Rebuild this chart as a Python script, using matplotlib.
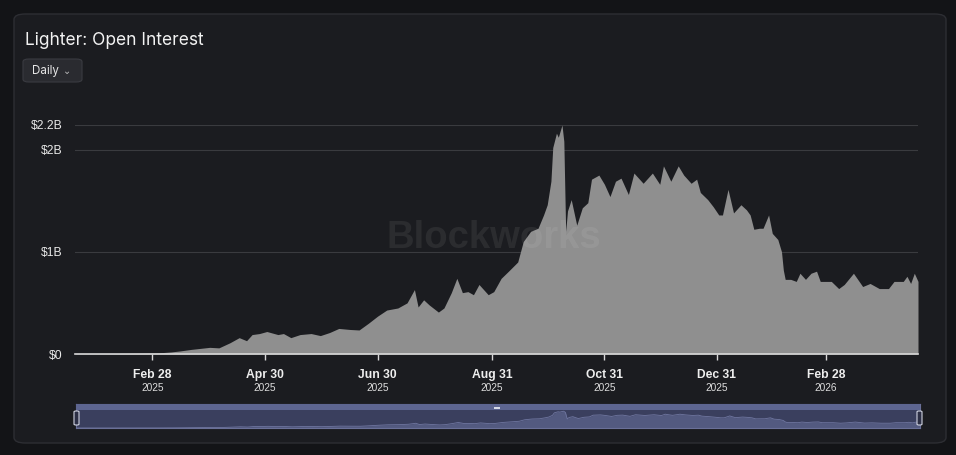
import matplotlib
matplotlib.use("Agg")
import matplotlib.pyplot as plt
import matplotlib.dates as mdates
from matplotlib.patches import FancyBboxPatch, Rectangle
import pandas as pd

# ---- data (open interest, billions USD) ----
dates = ["2025-01-17", "2025-01-31", "2025-02-16", "2025-02-28", "2025-03-04", "2025-03-10",
         "2025-03-15", "2025-03-21", "2025-03-26", "2025-03-31", "2025-04-05", "2025-04-11",
         "2025-04-16", "2025-04-20", "2025-04-23", "2025-04-27", "2025-05-01", "2025-05-07",
         "2025-05-10", "2025-05-14", "2025-05-19", "2025-05-25", "2025-05-30", "2025-06-04",
         "2025-06-09", "2025-06-15", "2025-06-20", "2025-06-25", "2025-06-30", "2025-07-05",
         "2025-07-11", "2025-07-16", "2025-07-20", "2025-07-22", "2025-07-25", "2025-07-28",
         "2025-08-02", "2025-08-05", "2025-08-09", "2025-08-12", "2025-08-15", "2025-08-18",
         "2025-08-21", "2025-08-24", "2025-08-29", "2025-09-01", "2025-09-05", "2025-09-09",
         "2025-09-14", "2025-09-17", "2025-09-21", "2025-09-25", "2025-09-28", "2025-09-30",
         "2025-10-02", "2025-10-03", "2025-10-05", "2025-10-06", "2025-10-08", "2025-10-09",
         "2025-10-10", "2025-10-11", "2025-10-13", "2025-10-16", "2025-10-19", "2025-10-22",
         "2025-10-24", "2025-10-28", "2025-10-31", "2025-11-03", "2025-11-06", "2025-11-09",
         "2025-11-13", "2025-11-16", "2025-11-21", "2025-11-26", "2025-11-30", "2025-12-02",
         "2025-12-06", "2025-12-10", "2025-12-13", "2025-12-17", "2025-12-20", "2025-12-22",
         "2025-12-26", "2025-12-29", "2026-01-01", "2026-01-03", "2026-01-06", "2026-01-09",
         "2026-01-13", "2026-01-16", "2026-01-18", "2026-01-20", "2026-01-23", "2026-01-25",
         "2026-01-28", "2026-01-30", "2026-02-02", "2026-02-04", "2026-02-05", "2026-02-06",
         "2026-02-09", "2026-02-12", "2026-02-14", "2026-02-17", "2026-02-20", "2026-02-23",
         "2026-02-25", "2026-03-03", "2026-03-07", "2026-03-10", "2026-03-15", "2026-03-20",
         "2026-03-24", "2026-03-29", "2026-04-03", "2026-04-06", "2026-04-11", "2026-04-13",
         "2026-04-15", "2026-04-17", "2026-04-19"]
open_interest_b = [0.002, 0.003, 0.006, 0.010, 0.012, 0.020,
                   0.030, 0.045, 0.055, 0.065, 0.060, 0.110,
                   0.160, 0.130, 0.190, 0.200, 0.220, 0.190,
                   0.200, 0.160, 0.190, 0.200, 0.180, 0.210,
                   0.250, 0.240, 0.235, 0.300, 0.370, 0.430,
                   0.450, 0.500, 0.630, 0.460, 0.530, 0.480,
                   0.410, 0.450, 0.600, 0.740, 0.600, 0.610,
                   0.580, 0.680, 0.580, 0.610, 0.740, 0.810,
                   0.900, 1.100, 1.200, 1.230, 1.360, 1.460,
                   1.690, 2.020, 2.160, 2.120, 2.240, 2.080,
                   1.200, 1.400, 1.510, 1.260, 1.430, 1.480,
                   1.710, 1.750, 1.660, 1.540, 1.690, 1.720,
                   1.560, 1.770, 1.670, 1.770, 1.660, 1.840,
                   1.690, 1.840, 1.750, 1.670, 1.710, 1.580,
                   1.510, 1.440, 1.360, 1.360, 1.610, 1.380,
                   1.460, 1.410, 1.360, 1.220, 1.230, 1.230,
                   1.360, 1.180, 1.120, 1.000, 0.820, 0.730,
                   0.730, 0.710, 0.790, 0.730, 0.790, 0.810,
                   0.710, 0.710, 0.640, 0.680, 0.790, 0.660,
                   0.690, 0.640, 0.640, 0.710, 0.710, 0.760,
                   0.690, 0.790, 0.710]
ytick_values_b = [0, 1, 2, 2.24]
ytick_labels = ["$0", "$1B", "$2B", "$2.2B"]
xtick_dates = ["2025-02-28", "2025-04-30", "2025-06-30", "2025-08-31",
               "2025-10-31", "2025-12-31", "2026-02-28"]
xtick_day = ["Feb 28", "Apr 30", "Jun 30", "Aug 31", "Oct 31", "Dec 31", "Feb 28"]
xtick_year = ["2025", "2025", "2025", "2025", "2025", "2025", "2026"]

x = mdates.date2num(pd.to_datetime(dates))
y = [v * 1e9 for v in open_interest_b]

W, H = 956, 455
fig = plt.figure(figsize=(W / 100, H / 100), dpi=100)
fig.patch.set_facecolor("#131417")

def fx(px):
    return px / W

def fy(py):
    return 1 - py / H

# card
card = FancyBboxPatch((fx(14), fy(443)), fx(946) - fx(14), fy(14) - fy(443),
                      boxstyle="round,pad=0,rounding_size=0.012",
                      transform=fig.transFigure, facecolor="#1b1c20",
                      edgecolor="#2d2e33", linewidth=1.0, zorder=-10)
fig.patches.append(card)

fig.text(fx(25), fy(40.5), "Lighter: Open Interest", fontsize=12.5,
         family=["Inter", "DejaVu Sans"], color="#f2f2f2", va="center", ha="left")
btn = FancyBboxPatch((fx(23), fy(82)), fx(82) - fx(23), fy(59) - fy(82),
                     boxstyle="round,pad=0,rounding_size=0.006",
                     transform=fig.transFigure, facecolor="#2a2b30",
                     edgecolor="#3a3b41", linewidth=0.8, zorder=-5)
fig.patches.append(btn)
fig.text(fx(32), fy(71), "Daily", fontsize=8.3, family=["Inter", "DejaVu Sans"],
         color="#e6e6e6", va="center", ha="left")
fig.text(fx(67), fy(71), "\u2304", fontsize=7, family=["DejaVu Sans"],
         color="#bbbbbb", va="center", ha="center")

# main axes
ax = fig.add_axes([fx(75), fy(354), fx(918) - fx(75), fy(125) - fy(354)])
ax.set_facecolor("none")
ax.fill_between(x, y, 0, color="#8f8f8f", linewidth=0, zorder=2)
ax.set_xlim(x[0], x[-1])
ax.set_ylim(0, max(ytick_values_b) * 1e9)
for s in ["top", "right", "left"]:
    ax.spines[s].set_visible(False)
ax.spines["bottom"].set_color("#d8d8d8")
ax.spines["bottom"].set_linewidth(1.2)
ax.spines["bottom"].set_zorder(4)
ax.set_yticks([v * 1e9 for v in ytick_values_b])
ax.set_yticklabels(ytick_labels)
ax.tick_params(axis="y", length=0, pad=9, labelsize=8.7, labelcolor="#e8e8e8")
for lbl in ax.get_yticklabels():
    lbl.set_family(["Liberation Sans", "DejaVu Sans"])
ax.grid(axis="y", color="#3a3b3f", linewidth=0.8, zorder=1)
ax.set_axisbelow(True)
xt = mdates.date2num(pd.to_datetime(xtick_dates))
ax.set_xticks(xt)
ax.set_xticklabels([""] * len(xt))
ax.tick_params(axis="x", length=4, width=1, color="#d8d8d8", pad=2)
trans = ax.get_xaxis_transform()
for t, d, yr in zip(xt, xtick_day, xtick_year):
    ax.text(t, -0.092, d, transform=trans, ha="center", va="center", fontsize=8.7,
            fontweight="bold", color="#eeeeee", family=["Liberation Sans", "DejaVu Sans"])
    ax.text(t, -0.148, yr, transform=trans, ha="center", va="center", fontsize=7.3,
            color="#dddddd", family=["Liberation Sans", "DejaVu Sans"])

fig.text(fx(494), fy(238), "Blockworks", fontsize=27.5, fontweight="bold",
         family=["Liberation Sans", "DejaVu Sans"], color="white", alpha=0.07,
         ha="center", va="center", zorder=10)

# navigator
nav = fig.add_axes([fx(76), fy(428), fx(920) - fx(76), fy(404) - fy(428)])
nav.set_facecolor("#3a3f5e")
nav.set_xlim(x[0], x[-1])
nav.set_ylim(0, 3.2e9)
nav.fill_between(x, y, 0, color="#535a80", linewidth=0)
nav.plot(x, y, color="#6f76a0", linewidth=0.6)
nav.add_patch(Rectangle((0, 0.75), 1, 0.25, transform=nav.transAxes,
                        facecolor="#5d6590", edgecolor="none", zorder=3))
nav.set_xticks([])
nav.set_yticks([])
for s in nav.spines.values():
    s.set_color("#6a7098")
    s.set_linewidth(0.8)
for hx in (76.5, 919.5):
    h = FancyBboxPatch((fx(hx) - fx(2.5), fy(425)), fx(5), fy(411) - fy(425),
                       boxstyle="round,pad=0,rounding_size=0.002",
                       transform=fig.transFigure, facecolor="#2c2f45",
                       edgecolor="#cfd2e0", linewidth=0.8, zorder=5)
    fig.patches.append(h)
grip = Rectangle((fx(494), fy(408.5)), fx(6), fy(406.5) - fy(408.5),
                 transform=fig.transFigure, facecolor="#d8dbe8", edgecolor="none", zorder=5)
fig.patches.append(grip)

fig.savefig("out.png", dpi=100, facecolor=fig.get_facecolor())
